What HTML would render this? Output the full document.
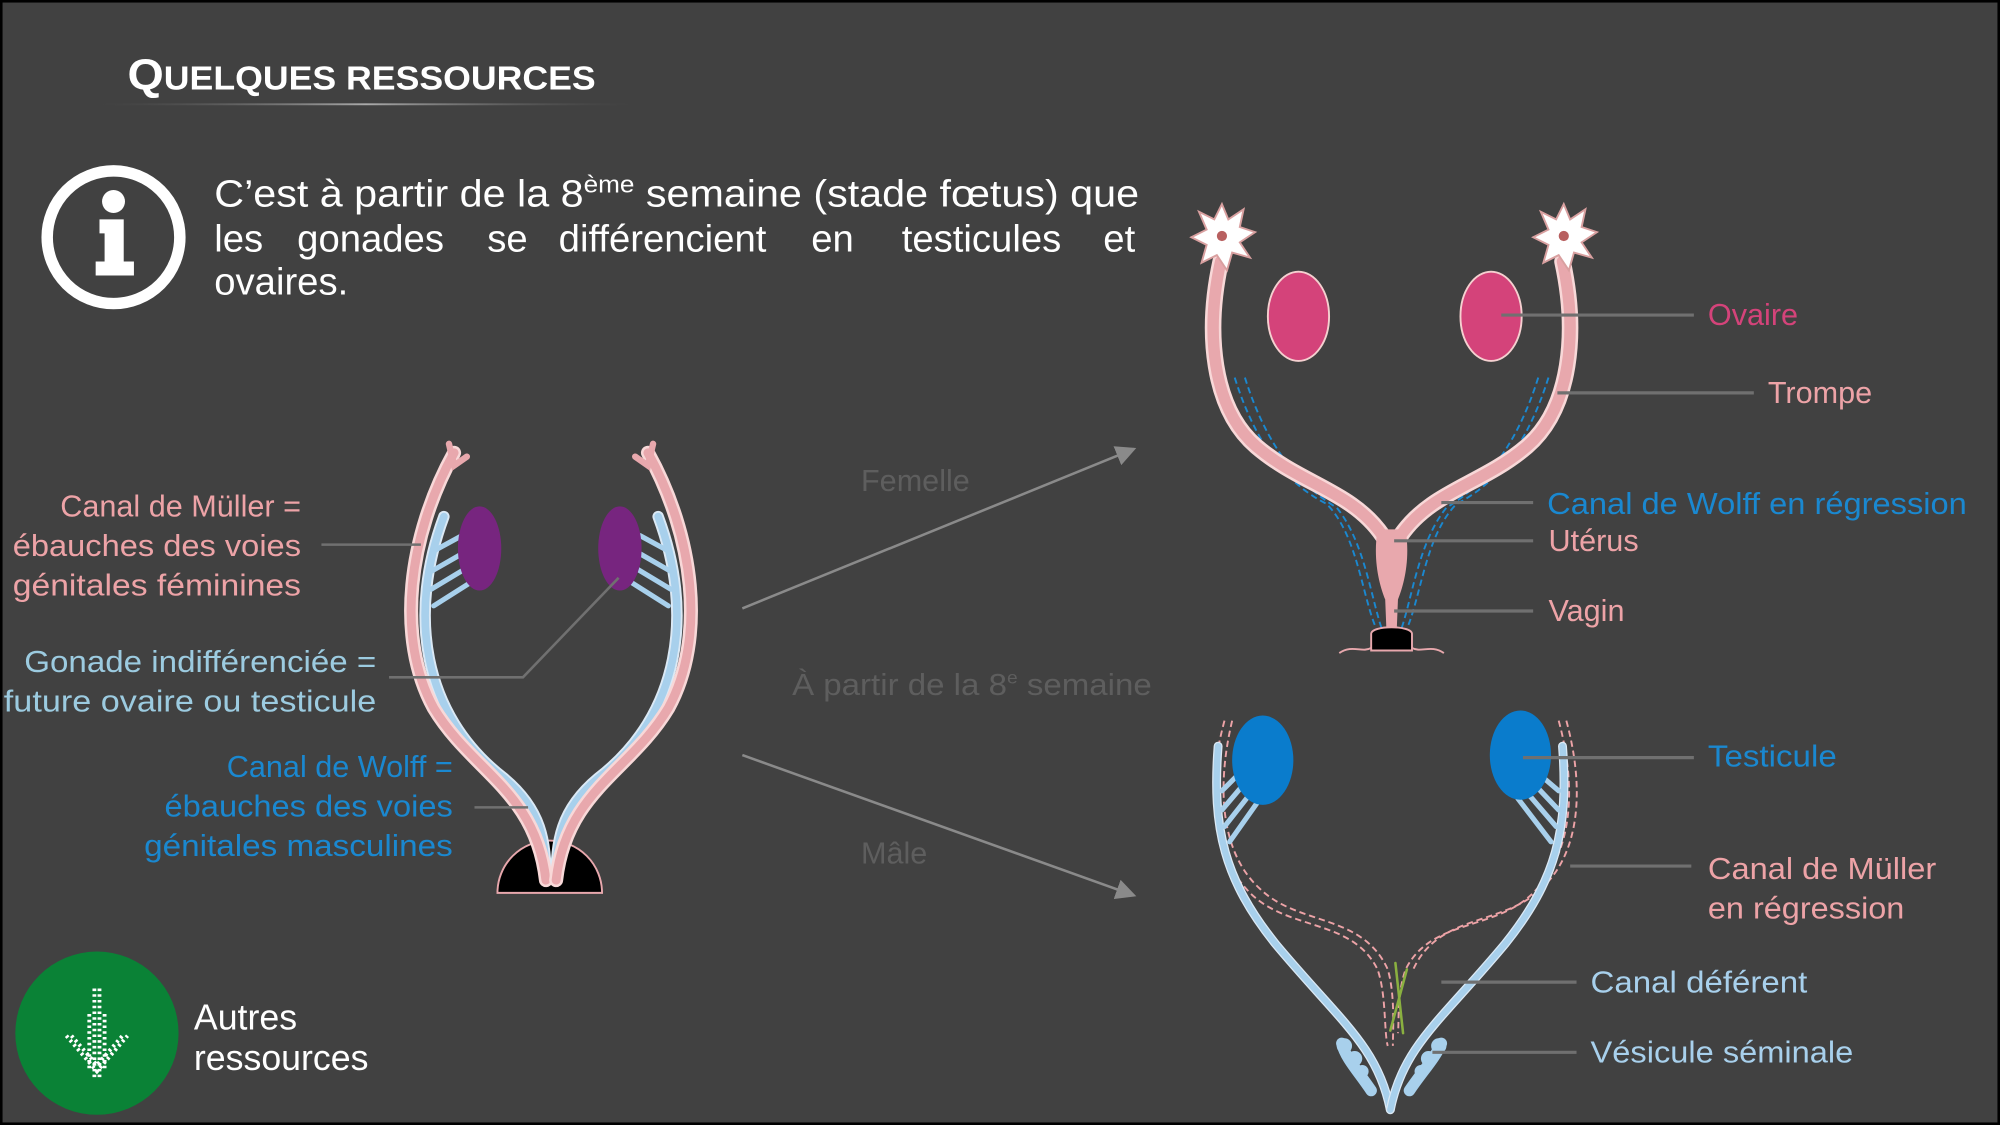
<!DOCTYPE html>
<html><head><meta charset="utf-8"><style>
html,body{margin:0;padding:0;background:#000;}
svg{display:block;}
text{font-family:"Liberation Sans",sans-serif;}
</style></head><body>
<svg width="2000" height="1125" viewBox="0 0 1568 882" xmlns="http://www.w3.org/2000/svg">
<defs>
<linearGradient id="ul" x1="0" x2="1"><stop offset="0" stop-color="#555" stop-opacity="0"/><stop offset="0.5" stop-color="#aaa"/><stop offset="1" stop-color="#555" stop-opacity="0"/></linearGradient>
<marker id="ah" markerWidth="8" markerHeight="8" refX="7" refY="4" orient="auto"><path d="M0,0 L8,4 L0,8 Z" fill="#8a8a8a"/></marker>
</defs>
<rect x="0" y="0" width="1568" height="882" fill="#000"/>
<rect x="2" y="2" width="1564" height="878" fill="#414141"/>

<text x="100" y="70" fill="#fff" font-weight="bold" font-size="26" textLength="367" lengthAdjust="spacingAndGlyphs"><tspan font-size="34">Q</tspan>UELQUES RESSOURCES</text>
<rect x="78" y="81" width="418" height="1.5" fill="url(#ul)"/>

<g>
<circle cx="89" cy="186" r="52" fill="none" stroke="#fff" stroke-width="9"/>
<circle cx="89" cy="158" r="9" fill="#fff"/>
<path d="M78,172 h19 v33 h8 v11 h-30 v-11 h7 v-22 h-4 z" fill="#fff"/>
</g>
<g fill="#fff" font-size="30">
<text x="168" y="162" textLength="725" lengthAdjust="spacingAndGlyphs">C’est à partir de la 8<tspan font-size="19" dy="-11">ème</tspan><tspan dy="11"> semaine (stade fœtus) que</tspan></text>
<text y="197"><tspan x="168">les</tspan><tspan x="233">gonades</tspan><tspan x="382">se</tspan><tspan x="438">différencient</tspan><tspan x="636">en</tspan><tspan x="707">testicules</tspan><tspan x="865">et</tspan></text>
<text x="168" y="231">ovaires.</text>
</g>

<g>
<path d="M390,700 A41,41 0 0 1 472,700 Z" fill="#000" stroke="#e8a8ad" stroke-width="1.5"/>
<g fill="none" stroke-linecap="round">
<path d="M348,405 C320,480 330,560 395,610 C425,635 428,660 428,690" stroke="#dbe9f5" stroke-width="9"/>
<path d="M348,405 C320,480 330,560 395,610 C425,635 428,660 428,690" stroke="#a8d0ec" stroke-width="6"/>
<path d="M516,405 C544,480 534,560 469,610 C439,635 436,660 436,690" stroke="#dbe9f5" stroke-width="9"/>
<path d="M516,405 C544,480 534,560 469,610 C439,635 436,660 436,690" stroke="#a8d0ec" stroke-width="6"/>
<path d="M362,420 L340,432 M366,432 L338,448 M368,444 L338,462 M370,456 L340,475" stroke="#a8d0ec" stroke-width="4"/>
<path d="M502,420 L524,432 M498,432 L526,448 M496,444 L526,462 M494,456 L524,475" stroke="#a8d0ec" stroke-width="4"/>
<path d="M356,355 C320,420 310,500 340,555 C370,605 420,620 428,690" stroke="#f8d8d8" stroke-width="11"/>
<path d="M356,355 C320,420 310,500 340,555 C370,605 420,620 428,690" stroke="#e8a8ad" stroke-width="7"/>
<path d="M508,355 C544,420 554,500 524,555 C494,605 444,620 436,690" stroke="#f8d8d8" stroke-width="11"/>
<path d="M508,355 C544,420 554,500 524,555 C494,605 444,620 436,690" stroke="#e8a8ad" stroke-width="7"/>
<path d="M352,348 L356,365 L366,358 M512,348 L508,365 L498,358" stroke="#e8a8ad" stroke-width="5"/>
</g>
<ellipse cx="376" cy="430" rx="17" ry="33" fill="#77257f"/>
<ellipse cx="486" cy="430" rx="17" ry="33" fill="#77257f"/>
<path d="M252,427 H330 M305,531 H410 L485,453 M372,633 H414" stroke="#707070" stroke-width="2" fill="none"/>
</g>
<g font-size="24" text-anchor="end">
<text x="236" y="405" fill="#eda3a7">Canal de Müller =</text>
<text x="236" y="436" fill="#eda3a7" textLength="226" lengthAdjust="spacingAndGlyphs">ébauches des voies</text>
<text x="236" y="467" fill="#eda3a7" textLength="226" lengthAdjust="spacingAndGlyphs">génitales féminines</text>
<text x="295" y="527" fill="#9ccbe0" textLength="276" lengthAdjust="spacingAndGlyphs">Gonade indifférenciée =</text>
<text x="295" y="558" fill="#9ccbe0" textLength="292" lengthAdjust="spacingAndGlyphs">future ovaire ou testicule</text>
<text x="355" y="609" fill="#1a88d0">Canal de Wolff =</text>
<text x="355" y="640" fill="#1a88d0" textLength="226" lengthAdjust="spacingAndGlyphs">ébauches des voies</text>
<text x="355" y="671" fill="#1a88d0" textLength="242" lengthAdjust="spacingAndGlyphs">génitales masculines</text>
</g>

<line x1="582" y1="477" x2="889" y2="352" stroke="#8a8a8a" stroke-width="2" marker-end="url(#ah)"/>
<line x1="582" y1="592" x2="889" y2="702" stroke="#8a8a8a" stroke-width="2" marker-end="url(#ah)"/>
<text x="675" y="385" fill="#5e5e5e" font-size="24">Femelle</text>
<text x="621" y="545" fill="#5e5e5e" font-size="24" textLength="282" lengthAdjust="spacingAndGlyphs">À partir de la 8<tspan font-size="14" dy="-9">e</tspan><tspan dy="9"> semaine</tspan></text>
<text x="675" y="677" fill="#5e5e5e" font-size="24">Mâle</text>

<g>
<g fill="none" stroke="#1a88d0" stroke-width="1.5" stroke-dasharray="5,3">
<path d="M968,296 C985,350 1010,380 1040,395 C1065,420 1068,470 1080,495"/>
<path d="M976,296 C993,350 1018,380 1048,398 C1070,425 1075,470 1084,495"/>
<path d="M1214,296 C1197,350 1172,380 1142,395 C1117,420 1114,470 1102,495"/>
<path d="M1206,296 C1189,350 1164,380 1134,398 C1112,425 1107,470 1098,495"/>
</g>
<g fill="none" stroke-linecap="round">
<path d="M957,205 C945,260 950,320 985,350 C1020,380 1060,385 1084,420" stroke="#f8d8d8" stroke-width="13"/>
<path d="M957,205 C945,260 950,320 985,350 C1020,380 1060,385 1084,420" stroke="#e8a8ad" stroke-width="9"/>
<path d="M1225,205 C1237,260 1232,320 1197,350 C1162,380 1122,385 1098,420" stroke="#f8d8d8" stroke-width="13"/>
<path d="M1225,205 C1237,260 1232,320 1197,350 C1162,380 1122,385 1098,420" stroke="#e8a8ad" stroke-width="9"/>
</g>
<path d="M1080,415 L1102,415 C1106,440 1100,460 1096,470 L1095,495 L1087,495 L1086,470 C1082,460 1076,440 1080,415 Z" fill="#e8a8ad"/>
<path d="M1075,497 C1075,490 1107,490 1107,497 L1107,510 L1075,510 Z" fill="#000" stroke="#e8a8ad" stroke-width="1.5"/>
<path d="M1050,512 C1060,505 1068,512 1075,508 M1107,508 C1114,512 1122,505 1132,512" stroke="#e8a8ad" stroke-width="1.5" fill="none"/>
<g fill="#fff" stroke="#d9a0a0" stroke-width="1.5">
<path d="M958,160 L963,172 L975,164 L972,178 L984,182 L972,190 L980,202 L966,198 L962,212 L954,200 L942,206 L946,192 L934,186 L946,180 L940,166 L952,172 Z"/>
<path d="M1226,160 L1231,172 L1243,164 L1240,178 L1252,182 L1240,190 L1248,202 L1234,198 L1230,212 L1222,200 L1210,206 L1214,192 L1202,186 L1214,180 L1208,166 L1220,172 Z"/>
</g>
<circle cx="958" cy="185" r="4" fill="#b86060"/>
<circle cx="1226" cy="185" r="4" fill="#b86060"/>
<ellipse cx="1018" cy="248" rx="24" ry="35" fill="#d4437a" stroke="#f5d0d0" stroke-width="1.5"/>
<ellipse cx="1169" cy="248" rx="24" ry="35" fill="#d4437a" stroke="#f5d0d0" stroke-width="1.5"/>
<path d="M1177,247 H1328 M1221,308 H1375 M1130,394 H1202 M1093,424 H1202 M1093,479 H1202" stroke="#707070" stroke-width="2.5" fill="none"/>
</g>
<g font-size="24">
<text x="1339" y="255" fill="#d4437a">Ovaire</text>
<text x="1386" y="316" fill="#eda3a7">Trompe</text>
<text x="1213" y="403" fill="#1a88d0" textLength="329" lengthAdjust="spacingAndGlyphs">Canal de Wolff en régression</text>
<text x="1214" y="432" fill="#eda3a7">Utérus</text>
<text x="1214" y="487" fill="#eda3a7">Vagin</text>
</g>

<g>
<g fill="none" stroke="#eda3a7" stroke-width="1.5" stroke-dasharray="5,3">
<path d="M960,565 C945,620 950,670 980,700 C1010,730 1060,720 1080,760 C1087,780 1085,810 1088,820"/>
<path d="M966,565 C953,620 958,670 988,697 C1018,726 1068,716 1088,760 C1094,780 1092,810 1092,820"/>
<path d="M1222,565 C1237,620 1232,670 1202,700 C1172,730 1122,720 1102,760 C1095,780 1097,800 1096,810"/>
<path d="M1228,565 C1243,620 1238,670 1208,697 C1178,726 1128,716 1108,760"/>
</g>
<g fill="none" stroke-linecap="round">
<path d="M955,585 C950,650 960,690 1000,740 C1050,800 1080,820 1090,870" stroke="#dbe9f5" stroke-width="7"/>
<path d="M955,585 C950,650 960,690 1000,740 C1050,800 1080,820 1090,870" stroke="#a8d0ec" stroke-width="5"/>
<path d="M1225,585 C1230,650 1220,690 1180,740 C1130,800 1100,820 1090,870" stroke="#dbe9f5" stroke-width="7"/>
<path d="M1225,585 C1230,650 1220,690 1180,740 C1130,800 1100,820 1090,870" stroke="#a8d0ec" stroke-width="5"/>
<path d="M970,608 L958,620 M975,615 L958,635 M982,620 L960,648 M988,626 L964,660" stroke="#a8d0ec" stroke-width="4"/>
<path d="M1208,608 L1222,620 M1203,615 L1222,635 M1196,620 L1220,648 M1190,626 L1216,660" stroke="#a8d0ec" stroke-width="4"/>
<path d="M1075,855 C1065,840 1055,830 1052,818 M1105,855 C1115,840 1125,830 1130,818" stroke="#a8d0ec" stroke-width="9"/>
<path d="M1094,755 L1100,810 M1103,760 L1090,808" stroke="#8ab040" stroke-width="2"/>
</g>
<g fill="#a8d0ec">
<circle cx="1054" cy="820" r="6"/><circle cx="1062" cy="830" r="6"/><circle cx="1068" cy="840" r="5"/>
<circle cx="1128" cy="820" r="6"/><circle cx="1120" cy="830" r="6"/><circle cx="1114" cy="840" r="5"/>
</g>
<ellipse cx="990" cy="596" rx="24" ry="35" fill="#0a7ccc"/>
<ellipse cx="1192" cy="592" rx="24" ry="35" fill="#0a7ccc"/>
<path d="M1194,594 H1328 M1231,679 H1326 M1130,770 H1236 M1123,825 H1236" stroke="#707070" stroke-width="2.5" fill="none"/>
</g>
<g font-size="24">
<text x="1339" y="601" fill="#1a88d0" textLength="101" lengthAdjust="spacingAndGlyphs">Testicule</text>
<text x="1339" y="689" fill="#eda3a7" textLength="179" lengthAdjust="spacingAndGlyphs">Canal de Müller</text>
<text x="1339" y="720" fill="#eda3a7" textLength="154" lengthAdjust="spacingAndGlyphs">en régression</text>
<text x="1247" y="778" fill="#a8d0ec" textLength="170" lengthAdjust="spacingAndGlyphs">Canal déférent</text>
<text x="1247" y="833" fill="#a8d0ec" textLength="206" lengthAdjust="spacingAndGlyphs">Vésicule séminale</text>
</g>

<g>
<circle cx="76" cy="810" r="64" fill="#0a8236"/>
<g fill="none" stroke="#fff" stroke-width="3" stroke-dasharray="2,2.5">
<path d="M74,775 V845 M78,775 V845 M70,795 V840 M82,795 V840"/>
<path d="M52,812 L76,840 L100,812 M56,812 L76,835 L96,812"/>
</g>
<text x="152" y="807" fill="#fff" font-size="28">Autres</text>
<text x="152" y="839" fill="#fff" font-size="28">ressources</text>
</g>
</svg>
</body></html>
